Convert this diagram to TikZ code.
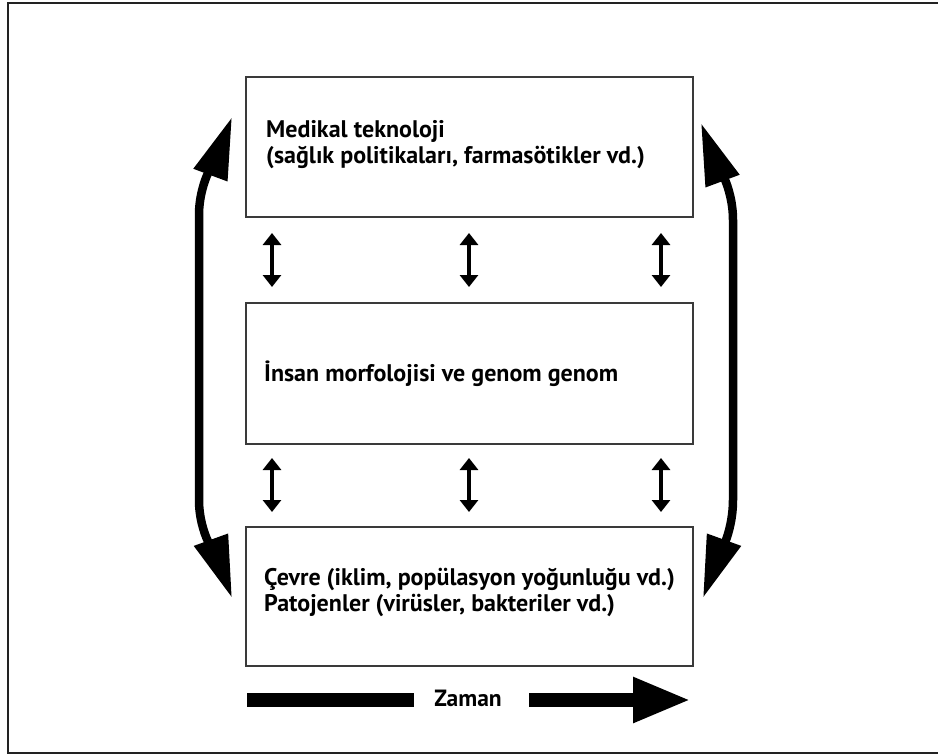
\documentclass[tikz,border=0pt]{standalone}
\usepackage{fontspec}
\setmainfont{PT Sans}
\usetikzlibrary{arrows.meta}
\definecolor{framecol}{HTML}{222222}
\definecolor{boxcol}{HTML}{3A3A3A}
\begin{document}
\begin{tikzpicture}[x=1pt,y=-1pt,
  boxstyle/.style={draw=boxcol,line width=1.8pt,rectangle,inner sep=0pt},
  lbl/.style={anchor=base west,inner sep=0pt,font=\fontsize{24}{26}\selectfont\bfseries,align=left},
  bigarrow/.style={line width=8.5pt,{Triangle[length=62pt,width=34pt]}-{Triangle[length=62pt,width=34pt]}},
  smallarrow/.style={line width=4pt,{Triangle[length=12pt,width=18pt]}-{Triangle[length=12pt,width=18pt]}},
  timebar/.style={line width=14pt}
]
\useasboundingbox (0,0) rectangle (938,755);
% outer frame (right side cut off)
\draw[framecol,line width=2.2pt] (945,3) -- (8,3) -- (8,753) -- (945,753);

% boxes
\node[boxstyle,minimum width=447pt,minimum height=140pt,anchor=north west] (top) at (245,76) {};
\node[boxstyle,minimum width=447pt,minimum height=141pt,anchor=north west] (mid) at (245,302) {};
\node[boxstyle,minimum width=447pt,minimum height=139pt,anchor=north west] (bot) at (245,526) {};

% texts (base anchor = baseline of the last line)
\node[lbl] (t1) at (266,163) {Medikal teknoloji\\(sağlık politikaları, farmasötikler vd.)};
\node[lbl] (t2) at (264,381) {İnsan morfolojisi ve genom genom};
\node[lbl] (t3) at (264,611) {Çevre (iklim, popülasyon yoğunluğu vd.)\\Patojenler (virüsler, bakteriler vd.)};

% small double arrows
\foreach \x/\n in {272/a,469/b,661/c}{
  \coordinate (u\n1) at (\x,233);
  \coordinate (u\n2) at (\x,287);
  \coordinate (l\n1) at (\x,458);
  \coordinate (l\n2) at (\x,512);
  \draw[smallarrow] (u\n1) -- (u\n2);
  \draw[smallarrow] (l\n1) -- (l\n2);
}

% big curved double arrows
\coordinate (LT) at (232,117);
\coordinate (LB) at (232,598);
\draw[bigarrow] (LT) .. controls (219,152) and (199,180) .. (199,215) -- (199,500) .. controls (199,535) and (219,562) .. (LB);
\coordinate (RT) at (701,123);
\coordinate (RB) at (703,598);
\draw[bigarrow] (RT) .. controls (714,158) and (733,185) .. (733,220) -- (733,500) .. controls (733,535) and (716,562) .. (RB);

% time arrow
\node[inner sep=0pt,font=\fontsize{23.5}{25}\selectfont\bfseries] (zaman) at (468,698) {Zaman};
\coordinate (z0) at (247,700);
\coordinate (z1) at (414,700);
\coordinate (z2) at (529,700);
\coordinate (z3) at (691,700);
\draw[timebar] (z0) -- (z1);
\draw[timebar,-{Triangle[length=58pt,width=42pt]}] (z2) -- (z3);
\end{tikzpicture}
\end{document}
